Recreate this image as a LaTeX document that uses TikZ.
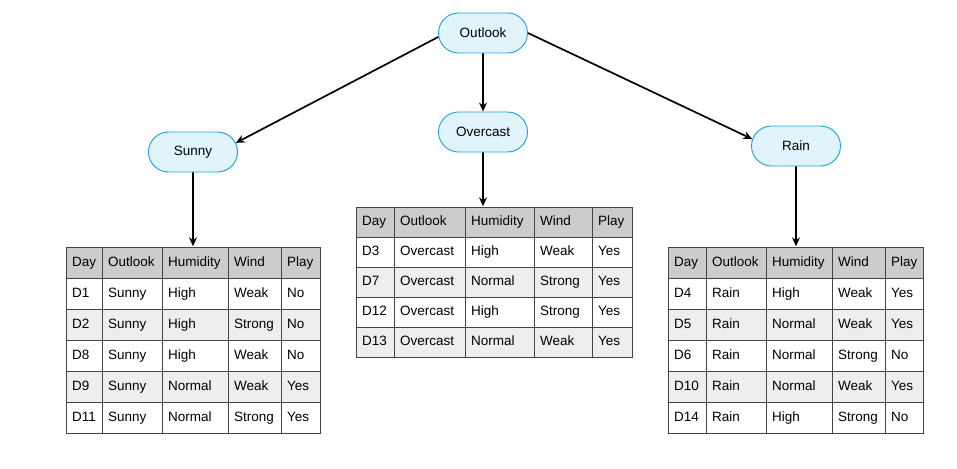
\documentclass[tikz,border=0pt]{standalone}
\usepackage{fontspec}
\setmainfont{Liberation Sans}
\usetikzlibrary{positioning,matrix,shapes.misc,arrows.meta}

\definecolor{nodeblue}{HTML}{1BA1E2}
\definecolor{nodefill}{HTML}{E1F3FB}
\definecolor{tabline}{HTML}{444444}
\definecolor{headgray}{HTML}{CCCCCC}
\definecolor{rowgray}{HTML}{EEEEEE}

\tikzset{
  attr/.style={rounded rectangle, draw=nodeblue, fill=nodefill, line width=0.9pt,
    minimum width=89pt, minimum height=40pt, inner sep=0pt},
  link/.style={-{Stealth[length=9pt,width=8pt,inset=3pt]}, line width=1.7pt},
  datatab/.style={matrix of nodes, anchor=north west, inner sep=0pt,
    column sep=-1.4pt, row sep=-1.4pt,
    nodes={draw=tabline, line width=1.4pt, anchor=center, align=left,
      text height=10pt, text depth=3pt, inner xsep=6pt, minimum height=31pt},
    row 1/.style={nodes={fill=headgray}},
    row 3/.style={nodes={fill=rowgray}},
    row 5/.style={nodes={fill=rowgray}}},
  colwidths/.style n args={5}{
    column 1/.style={nodes={text width=#1}},
    column 2/.style={nodes={text width=#2}},
    column 3/.style={nodes={text width=#3}},
    column 4/.style={nodes={text width=#4}},
    column 5/.style={nodes={text width=#5}}},
}

\begin{document}
\begin{tikzpicture}[x=1pt, y=-1pt, node distance=99pt, font=\fontsize{13.5}{16}\selectfont]
  \useasboundingbox (0,0) rectangle (957,468);

  % split nodes
  \node[attr] (outlook) at (483,33) {Outlook};
  \node[attr] (overcast) [below of=outlook] {Overcast};
  \node[attr] (sunny) at (193,152) {Sunny};
  \node[attr] (rain) at (796,146) {Rain};

  % subsets
  \matrix (sunnytab) [datatab, colwidths={24pt}{48pt}{54pt}{41pt}{27pt}] at (65.3,246.3) {
    Day & Outlook & Humidity & Wind & Play \\
    D1  & Sunny & High   & Weak   & No  \\
    D2  & Sunny & High   & Strong & No  \\
    D8  & Sunny & High   & Weak   & No  \\
    D9  & Sunny & Normal & Weak   & Yes \\
    D11 & Sunny & Normal & Strong & Yes \\
  };
  \matrix (overcasttab) [datatab, nodes={minimum height=30pt},
      colwidths={26pt}{59pt}{57pt}{46pt}{28pt}] at (355.3,206.3) {
    Day & Outlook & Humidity & Wind & Play \\
    D3  & Overcast & High   & Weak   & Yes \\
    D7  & Overcast & Normal & Strong & Yes \\
    D12 & Overcast & High   & Strong & Yes \\
    D13 & Overcast & Normal & Weak   & Yes \\
  };
  \matrix (raintab) [datatab, colwidths={26pt}{48pt}{54pt}{41pt}{26pt}] at (667.3,246.3) {
    Day & Outlook & Humidity & Wind & Play \\
    D4  & Rain & High   & Weak   & Yes \\
    D5  & Rain & Normal & Weak   & Yes \\
    D6  & Rain & Normal & Strong & No  \\
    D10 & Rain & Normal & Weak   & Yes \\
    D14 & Rain & High   & Strong & No  \\
  };

  \draw[link] (outlook.185) -- (sunny.12);
  \draw[link] (outlook) -- (overcast);
  \draw[link] (outlook.east) -- (rain.171);
  \draw[link] (sunny) -- (sunny |- sunnytab.north);
  \draw[link] (overcast) -- (overcast |- overcasttab.north);
  \draw[link] (rain) -- (rain |- raintab.north);
\end{tikzpicture}
\end{document}
